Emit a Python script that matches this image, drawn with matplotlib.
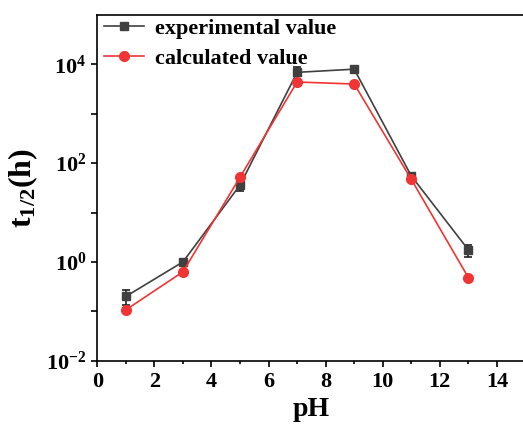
import matplotlib
matplotlib.use('Agg')
import matplotlib.pyplot as plt
import numpy as np
from matplotlib.ticker import FixedLocator, FuncFormatter, MultipleLocator

plt.rcParams['font.family'] = 'Liberation Serif'
plt.rcParams['font.weight'] = 'bold'
plt.rcParams['mathtext.fontset'] = 'custom'
plt.rcParams['mathtext.rm'] = 'Liberation Serif:bold'
plt.rcParams['mathtext.bf'] = 'Liberation Serif:bold'
plt.rcParams['mathtext.it'] = 'Liberation Serif:bold'

# data
pH = [1, 3, 5, 7, 9, 11, 13]
t_exp = [0.2, 1.0, 36, 6900, 8000, 55, 1.75]
t_exp_err = [0.065, 0.15, 9, 1800, 700, 6, 0.5]
t_calc = [0.107, 0.63, 52, 4400, 4000, 47, 0.48]

fig = plt.figure(figsize=(5.23, 4.36), dpi=100)
ax = fig.add_axes([0.186, 0.1727, 0.8188, 0.7929])

# error bars drawn separately so the legend shows just line + marker
ax.errorbar(pH, t_exp, yerr=t_exp_err, fmt='none', ecolor='#202020',
            capsize=3, elinewidth=1.2, capthick=1.2, zorder=2)
ax.plot(pH, t_exp, color='#404040', marker='s', markersize=6, lw=1.2,
        label='experimental value', zorder=2)
ax.plot(pH, t_calc, color='#f03434', marker='o', markersize=7, lw=1.2,
        label='calculated value', zorder=3)

ax.set_yscale('log')
ax.set_xlim(0, 15)
ax.set_ylim(1e-2, 1e5)

ax.xaxis.set_major_locator(MultipleLocator(2))
ax.xaxis.set_minor_locator(MultipleLocator(1))
ax.yaxis.set_major_locator(FixedLocator([10.0**k for k in range(-2, 5)]))
ax.yaxis.set_minor_locator(FixedLocator([]))

def yfmt(v, pos):
    k = int(round(np.log10(v)))
    if k % 2 != 0:
        return ''
    return r'$\mathbf{10^{%d}}$' % k

ax.yaxis.set_major_formatter(FuncFormatter(yfmt))
ax.xaxis.set_major_formatter(FuncFormatter(lambda v, p: '%d' % v))

ax.tick_params(axis='both', which='major', direction='out', length=4.5, width=1.2,
               labelsize=16)
ax.tick_params(axis='both', which='minor', direction='out', length=2.5, width=1.2)
for s in ax.spines.values():
    s.set_linewidth(1.2)

ax.set_xlabel('pH', fontsize=20, fontweight='bold', labelpad=4)
ax.set_ylabel(r'$\mathbf{t_{1/2}(h)}$', fontsize=23, labelpad=4)

ax.legend(loc='upper left', bbox_to_anchor=(0.0, 1.01), frameon=False,
          fontsize=16, handlelength=1.8, handletextpad=0.5, labelspacing=0.42,
          borderaxespad=0.1, borderpad=0.2)

fig.savefig('out.png', dpi=100)
